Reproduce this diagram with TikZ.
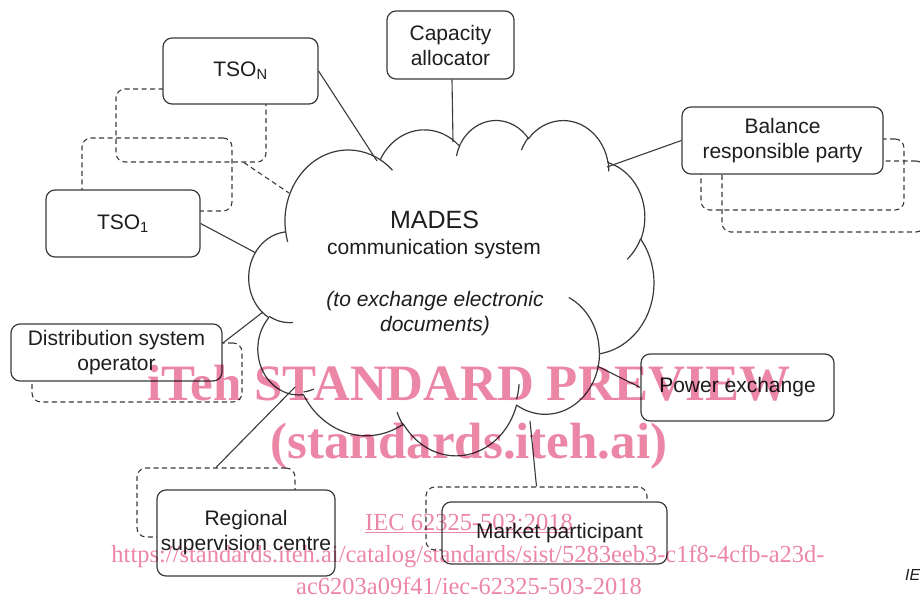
\documentclass[tikz,border=0pt]{standalone}
\usepackage{fontspec}
\setmainfont{Liberation Sans}
\newfontfamily\wmfont{Liberation Serif}
\usetikzlibrary{calc}

\definecolor{inkline}{RGB}{58,58,58}
\definecolor{inktext}{RGB}{30,30,30}
\definecolor{wmpink}{RGB}{236,134,166}

% One bump of the cloud outline: elliptic arc from the current point.
% #1,#2 = radii, #3 = start angle, #4 = sweep (visual angles, degrees).
\newcommand\cloudarc[4]{%
  \pgfmathsetmacro\cloudta{atan2((#1)*sin(#3),(#2)*cos(#3))}%
  \pgfmathsetmacro\cloudtb{atan2((#1)*sin((#3)+(#4)),(#2)*cos((#3)+(#4)))}%
  \pgfmathsetmacro\cloudtb{\cloudta+mod(\cloudtb-\cloudta+720,360)}%
  \pgfpatharcaxes{\cloudta}{\cloudtb}{\pgfpointxy{#1}{0}}{\pgfpointxy{0}{#2}}%
}
% Short inner stroke of a bump, starting at (#1,#2).
\newcommand\cloudtail[6]{%
  \pgfpathmoveto{\pgfpointxy{#1}{#2}}%
  \cloudarc{#3}{#4}{#5}{#6}%
}

\begin{document}
\begin{tikzpicture}[x=1pt,y=-1pt,line join=round,
  box/.style={draw=inkline, line width=1.2pt, fill=white, rounded corners=9pt,
    align=center, inner sep=0pt, text=inktext,
    font=\fontsize{21}{25}\selectfont},
  ghost/.style={draw=inkline, line width=1.1pt, dash pattern=on 5pt off 3.5pt,
    rounded corners=9pt, inner sep=0pt},
  link/.style={draw=inkline, line width=1.1pt},
  ghostlink/.style={link, dash pattern=on 5pt off 3.5pt},
  cloudtext/.style={anchor=base, inner sep=0pt, text=inktext,
    font=\fontsize{21}{21}\selectfont},
  wmbig/.style={anchor=base, inner sep=0pt, text=wmpink,
    font=\wmfont\bfseries\fontsize{51}{51}\selectfont},
  wmsmall/.style={anchor=base, inner sep=0pt, text=wmpink,
    font=\wmfont\fontsize{24.5}{24.5}\selectfont}]

\useasboundingbox (0,0) rectangle (920,599);
\clip (0,0) rectangle (920,599);

% ---- stacked (dashed) copies behind the actor boxes
\node[ghost, minimum width=150pt, minimum height=73pt] (tsoGa) at (191,125.5) {};
\node[ghost, minimum width=150pt, minimum height=73pt] (tsoGb) at (157,174.5) {};
\node[ghost, minimum width=203pt, minimum height=71pt] (brpGa) at (802.5,174.5) {};
\node[ghost, minimum width=203pt, minimum height=71pt] (brpGb) at (823.5,196.5) {};
\node[ghost, minimum width=210pt, minimum height=59pt] (dsoG) at (137,372.5) {};
\node[ghost, minimum width=158pt, minimum height=69pt] (rscG) at (216,502.5) {};
\node[ghost, minimum width=221pt, minimum height=63pt] (mpG) at (536.5,518.5) {};

% ---- actor boxes
\node[box, minimum width=155pt, minimum height=66pt] (tsoN) at (240.5,71) {TSO\textsubscript{N}};
\node[box, minimum width=154pt, minimum height=67pt] (tsoA) at (123,223.5) {TSO\textsubscript{1}};
\node[box, minimum width=127pt, minimum height=68pt] (cap) at (450.5,45) {Capacity\\allocator};
\node[box, minimum width=201pt, minimum height=67pt] (brp) at (782.5,140.5) {Balance\\responsible party};
\node[box, minimum width=211pt, minimum height=57pt] (dso) at (116.5,352.5) {Distribution system\\operator};
\node[box, minimum width=178pt, minimum height=86pt] (rsc) at (246,533) {Regional\\supervision centre};
\node[box, minimum width=193pt, minimum height=67pt] (pex) at (737.5,387.5) {Power exchange};
\node[box, minimum width=225pt, minimum height=62pt] (mp) at (554.5,533) {\hspace*{10pt}Market participant};

% ---- the MADES cloud
\begin{scope}[xshift=249pt, yshift=-119.4pt, x=0.937pt, y=-0.776pt]
  \pgfsetlinewidth{1.2pt}
  \pgfsetstrokecolor{inkline}
  \pgfsetfillcolor{white}
  \pgfpathmoveto{\pgfpointxy{39.00}{143.70}}
  \cloudarc{67.53}{91.90}{-190.4875}{123.7805}
  \cloudarc{53.33}{72.67}{-144.1024}{89.9452}
  \cloudarc{43.65}{59.45}{-145.8079}{99.7230}
  \cloudarc{48.57}{65.95}{-130.9861}{117.2417}
  \cloudarc{53.33}{72.73}{-78.7089}{109.0269}
  \cloudarc{67.75}{92.20}{-46.2673}{130.2690}
  \cloudarc{57.85}{78.67}{0.6250}{114.0333}
  \cloudarc{67.52}{92.15}{22.4516}{115.1726}
  \cloudarc{77.20}{105.43}{66.2426}{75.7110}
  \cloudarc{43.60}{59.18}{-274.9421}{146.7356}
  \cloudarc{43.45}{59.45}{-246.8285}{152.5189}
  \pgfpathclose
  \pgfusepath{fill,stroke}
  \cloudtail{46.93}{261.77}{43.45}{59.45}{86.7420}{26.4295}
  \cloudtail{69.28}{347.51}{43.60}{59.18}{73.6105}{11.4475}
  \cloudtail{164.78}{394.74}{67.52}{92.15}{137.6242}{14.0811}
  \cloudtail{288.27}{341.29}{67.52}{92.15}{6.4533}{15.9984}
  \cloudtail{341.29}{229.54}{57.85}{78.67}{-70.2924}{70.9174}
  \cloudtail{417.98}{153.54}{53.33}{72.73}{30.3180}{27.7515}
  \cloudtail{383.24}{54.26}{48.57}{65.95}{-13.7443}{14.8589}
  \cloudtail{290.78}{39.52}{48.57}{65.95}{-149.1815}{18.1954}
  \cloudtail{221.41}{47.20}{43.65}{59.45}{-163.4943}{17.6864}
  \cloudtail{140.00}{51.92}{67.53}{91.90}{-66.7070}{12.3194}
  \cloudtail{41.27}{157.89}{67.53}{91.90}{157.6544}{11.8582}
  \pgfusepath{stroke}
\end{scope}

% ---- where the connectors meet the cloud
\coordinate (kTsoN) at (377,161);
\coordinate (kTsoG) at (289,193);
\coordinate (kTsoA) at (256,253);
\coordinate (kCap) at (453,142);
\coordinate (kBrp) at (607,167);
\coordinate (kDso) at (263,312);
\coordinate (kRsc) at (295,387);
\coordinate (kPex) at (597,366);
\coordinate (kMp) at (530,421);

% ---- connectors
\draw[link] (tsoN.east) -- (kTsoN);
\draw[ghostlink] (tsoGa.-35) -- (kTsoG);
\draw[link] (tsoA.east) -- (kTsoA);
\draw[link] (cap.south) ++(1.5pt,0) -- (kCap);
\draw[link] (brp.west) -- (kBrp);
\draw[link] (dso.5) -- (kDso);
\draw[link] (rscG.north) -- (kRsc);
\draw[link] (pex.west) -- (kPex);
\draw[link] (mpG.north) -- (kMp);

% ---- cloud label
\node[cloudtext, font=\fontsize{25}{25}\selectfont] (madesTitle) at (434.5,228) {MADES};
\node[cloudtext] (madesSub) at (434,254) {communication system};
\node[cloudtext, font=\itshape\fontsize{21}{21}\selectfont] (madesNoteA) at (435,306) {(to exchange electronic};
\node[cloudtext, font=\itshape\fontsize{21}{21}\selectfont] (madesNoteB) at (435,331) {documents)};

\node[anchor=base west, inner sep=0pt, text=inktext,
  font=\itshape\fontsize{16}{16}\selectfont] (figTag) at (905,580) {IE};

% ---- overprinted preview marking
\begin{scope}[blend mode=multiply]
\node[wmbig] (wmA) at (469,400) {iTeh STANDARD PREVIEW};
\node[wmbig] (wmB) at (469,458) {(standards.iteh.ai)};
\node[wmsmall] (wmC) at (469,530) {\underline{IEC 62325-503:2018}};
\node[wmsmall] (wmD) at (468,562) {https://standards.iteh.ai/catalog/standards/sist/5283eeb3-c1f8-4cfb-a23d-};
\node[wmsmall] (wmE) at (469,594) {ac6203a09f41/iec-62325-503-2018};
\end{scope}
\end{tikzpicture}
\end{document}
